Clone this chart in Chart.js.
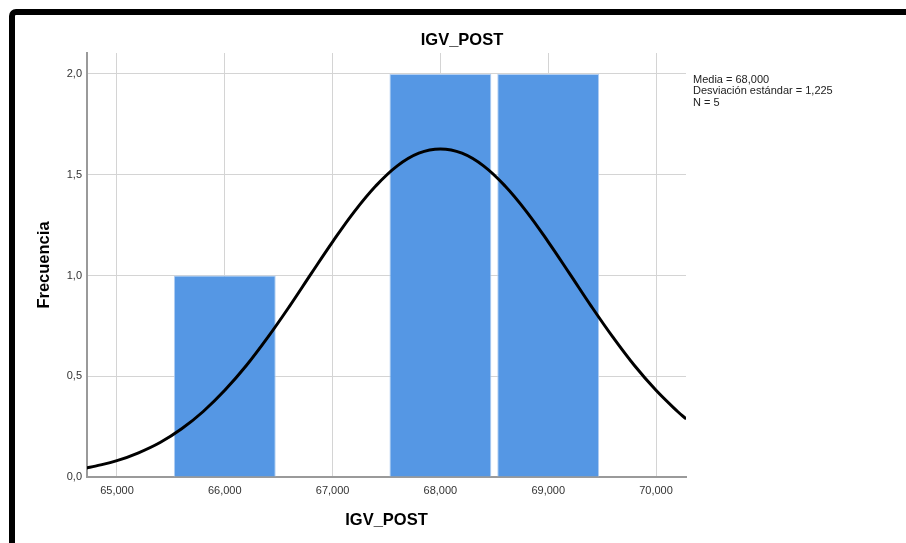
<!DOCTYPE html>
<html>
<head>
<meta charset="utf-8">
<script src="https://cdn.jsdelivr.net/npm/chart.js@4"></script>
<style>
  html, body { margin: 0; padding: 0; background: #fff; }
  #wrap { position: relative; width: 906px; height: 543px; overflow: hidden; }
  #c { position: absolute; left: 0; top: 0; }
  #frame { position: absolute; left: 9px; top: 9px; width: 920px; height: 560px;
           border: 6px solid #000; border-radius: 7px; box-sizing: border-box; pointer-events: none; }
</style>
</head>
<body>
<div id="wrap">
  <canvas id="c" width="906" height="543"></canvas>
  <div id="frame"></div>
</div>
<script>
const chartTitle = 'IGV_POST';
const xAxisTitle = 'IGV_POST';
const yAxisTitle = 'Frecuencia';
const statsLines = ['Media = 68,000', 'Desviación estándar = 1,225', 'N = 5'];

const binCenters = [66, 68, 69];
const frequencies = [1, 2, 2];

const curveX = [64.72, 64.8, 65.0, 65.2, 65.4, 65.6, 65.8, 66.0, 66.2, 66.4, 66.6, 66.8, 67.0, 67.2, 67.4, 67.6, 67.8,
                68.0, 68.2, 68.4, 68.6, 68.8, 69.0, 69.2, 69.4, 69.6, 69.8, 70.0, 70.2, 70.28];
const curveY = [0.045, 0.054, 0.081, 0.120, 0.171, 0.239, 0.325, 0.430, 0.553, 0.694, 0.847, 1.008, 1.167, 1.316, 1.444, 1.544, 1.607,
                1.628, 1.607, 1.544, 1.444, 1.316, 1.167, 1.008, 0.847, 0.694, 0.553, 0.430, 0.325, 0.288];

const xMin = 64.722, xMax = 70.278;
const yMin = 0, yMax = 2.104;

const FONT = '"Liberation Sans", Arial, sans-serif';

const textPlugin = {
  id: 'texts',
  afterDraw(chart) {
    const ctx = chart.ctx;
    const a = chart.chartArea;
    ctx.save();
    ctx.fillStyle = '#000';
    ctx.font = 'bold 16.5px ' + FONT;
    ctx.textAlign = 'center';
    ctx.textBaseline = 'middle';
    ctx.fillText(chartTitle, 462, 40);
    ctx.fillText(xAxisTitle, (a.left + a.right) / 2, 520);
    ctx.save();
    ctx.translate(44, (a.top + a.bottom) / 2);
    ctx.rotate(-Math.PI / 2);
    ctx.fillText(yAxisTitle, 0, 0);
    ctx.restore();
    ctx.font = '11px ' + FONT;
    ctx.fillStyle = '#222';
    ctx.textAlign = 'left';
    statsLines.forEach((t, i) => ctx.fillText(t, a.right + 7, 80 + i * 11.3));
    ctx.restore();
  }
};

new Chart(document.getElementById('c'), {
  type: 'bar',
  data: {
    datasets: [
      {
        type: 'line',
        data: curveX.map((x, i) => ({ x: x, y: curveY[i] })),
        borderColor: '#000',
        borderWidth: 3,
        pointRadius: 0,
        tension: 0.4,
        fill: false,
        order: 0
      },
      {
        type: 'bar',
        data: binCenters.map((x, i) => ({ x: x, y: frequencies[i] })),
        backgroundColor: '#5597e4',
        borderColor: '#b3cff2',
        borderWidth: 1,
        categoryPercentage: 1,
        barPercentage: 0.945,
        order: 1
      }
    ]
  },
  options: {
    responsive: false,
    animation: false,
    devicePixelRatio: 1,
    layout: { padding: { left: 0, right: 220, top: 53, bottom: 0 } },
    plugins: { legend: { display: false }, title: { display: false }, tooltip: { enabled: false } },
    scales: {
      x: {
        type: 'linear',
        offset: false,
        min: xMin, max: xMax,
        afterFit(s) { s.height = 66; },
        grid: { color: '#d4d4d4', lineWidth: 1, drawTicks: false, offset: false },
        border: { color: '#9a9a9a', width: 2 },
        ticks: {
          stepSize: 1,
          includeBounds: false,
          padding: 7,
          color: '#333',
          font: { family: FONT, size: 11 },
          callback: v => Number(v).toFixed(3).replace('.', ',')
        }
      },
      y: {
        min: yMin, max: yMax,
        afterFit(s) { s.width = 87; },
        grid: { color: '#d4d4d4', lineWidth: 1, drawTicks: false },
        border: { color: '#9a9a9a', width: 2 },
        ticks: {
          stepSize: 0.5,
          includeBounds: false,
          padding: 5,
          color: '#333',
          font: { family: FONT, size: 11 },
          callback: v => Number(v).toFixed(1).replace('.', ',')
        }
      }
    }
  },
  plugins: [textPlugin]
});
</script>
</body>
</html>
